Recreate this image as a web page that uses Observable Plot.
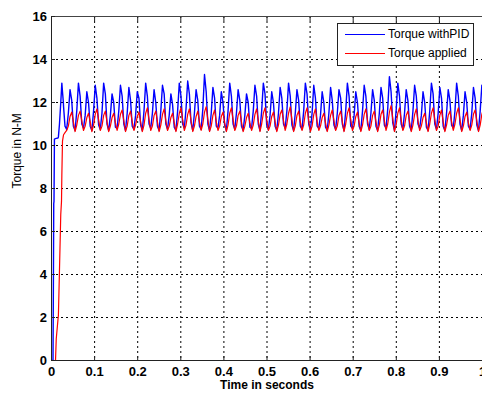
<!DOCTYPE html>
<html>
<head>
<meta charset="utf-8">
<script src="https://cdn.jsdelivr.net/npm/d3@7"></script>
<script src="https://cdn.jsdelivr.net/npm/@observablehq/plot@0.6"></script>
<style>
  html, body { margin: 0; padding: 0; background: #fff; }
  #wrap { position: relative; width: 482px; height: 394px; overflow: hidden; font-family: "Liberation Sans", Arial, sans-serif; }
  #legend { position: absolute; left: 337px; top: 23px; width: 135px; height: 41px; border: 1px solid #222; background: #fff; }
  .li { position: absolute; left: 0; height: 14px; font-size: 12px; line-height: 14px; color: #000; }
  .li span.sw { position: absolute; left: 7px; top: 7px; width: 40px; height: 0; border-top: 1px solid; }
  .li span.tx { position: absolute; left: 50px; top: 0; white-space: nowrap; }
</style>
</head>
<body>
<div id="wrap">
  <div id="chart"></div>
  <div id="legend">
    <div class="li" style="top:3px"><span class="sw" style="border-color:#0000ff"></span><span class="tx">Torque withPID</span></div>
    <div class="li" style="top:22px"><span class="sw" style="border-color:#ff0000"></span><span class="tx">Torque applied</span></div>
  </div>
</div>
<script>
// ---- tick labels ----
const xTicks = [0, 0.1, 0.2, 0.3, 0.4, 0.5, 0.6, 0.7, 0.8, 0.9, 1];
const yTicks = [0, 2, 4, 6, 8, 10, 12, 14, 16];
const seriesNames = ["Torque withPID", "Torque applied"];

// ---- start-up transient (explicit times) ----
const startTime  = [0, 0.0035, 0.0045, 0.0052, 0.0058, 0.0068, 0.0093, 0.011, 0.015, 0.016, 0.0185, 0.0215, 0.0232, 0.024, 0.0255, 0.0275, 0.028, 0.0313];
const startBlue  = [0, 0, 4.0, 7.3, 7.4, 10.3, 10.32, 10.33, 10.35, 10.4, 11.0, 12.0, 12.6, 12.9, 12.5, 12.0, 11.8, 10.9];
const startRed   = [0, 0, 0, 0, 0, 0, 0, 1.0, 1.9, 2.1, 4.2, 6.8, 7.4, 8.6, 10.2, 10.45, 10.5, 10.6];

// ---- steady-state samples, 0.0039 s apart from 0.0352 s ----
const steadyStart = 0.0352;
const steadyStep = 0.0039;
const steadyBlue = [
10.75,11.5,12.6,12.1,10.9,  10.7,11.6,12.9,12.3,11.0,  10.8,11.4,12.5,12.0,10.9,  10.7,11.6,12.8,12.2,10.95,
10.75,11.5,12.9,12.4,11.0,  10.7,11.4,12.4,12.0,10.85, 10.8,11.6,12.8,12.3,11.0,  10.7,11.5,12.7,12.1,10.9,
10.75,11.4,12.5,12.2,10.95, 10.7,11.6,12.9,12.3,11.0,  10.8,11.5,12.6,12.0,10.9,  10.7,11.6,12.8,12.4,11.0,
10.75,11.4,12.4,11.9,10.85, 10.7,11.6,12.9,12.3,11.0,  10.8,11.7,13.0,12.4,11.05, 10.7,11.5,12.6,12.1,10.9,
10.75,11.7,13.3,12.5,11.0,  10.7,11.5,12.7,12.2,10.9,  10.8,11.4,12.5,12.0,10.95, 10.7,11.6,12.9,12.3,11.0,
10.75,11.5,12.6,12.1,10.9,  10.7,11.4,12.4,12.0,10.85, 10.8,11.6,12.8,12.3,11.0,  10.7,11.6,12.9,12.4,10.95,
10.75,11.4,12.5,12.0,10.9,  10.7,11.5,12.7,12.2,11.0,  10.8,11.6,12.9,12.3,10.95, 10.7,11.5,12.6,12.1,10.9,
10.75,11.6,12.9,12.4,11.0,  10.7,11.5,12.8,12.2,10.9,  10.8,11.4,12.5,12.0,10.85, 10.7,11.5,12.7,12.1,10.95,
10.75,11.5,12.6,12.2,11.0,  10.7,11.6,12.9,12.3,10.9,  10.8,11.4,12.5,12.0,10.9,  10.7,11.6,12.8,12.3,11.0,
10.75,11.5,12.6,12.1,10.9,  10.7,11.5,12.7,12.2,10.95, 10.8,11.7,13.2,12.5,11.05, 10.7,11.6,12.9,12.3,11.0,
10.75,11.5,12.6,12.1,10.9,  10.7,11.6,12.8,12.3,11.0,  10.8,11.4,12.5,12.0,10.85, 10.7,11.6,12.9,12.4,11.0,
10.75,11.5,12.7,12.2,10.9,  10.7,11.5,12.6,12.1,10.95, 10.8,11.6,12.9,12.3,11.0,  10.7,11.4,12.5,12.0,10.9,
10.75,11.5,12.7,12.2,10.95, 10.7,11.6,12.8,12.3,11.0
];
const steadyRed = [
10.7,10.9,11.35,11.55,11.1,   10.65,10.95,11.4,11.6,11.15,  10.7,10.9,11.3,11.5,11.1,     10.65,10.95,11.45,11.7,11.2,
10.7,10.9,11.4,11.6,11.1,     10.65,10.9,11.3,11.5,11.05,   10.7,11.0,11.45,11.65,11.15,  10.65,10.9,11.4,11.6,11.1,
10.7,10.95,11.35,11.55,11.1,  10.65,10.95,11.5,11.75,11.2,  10.7,10.9,11.4,11.6,11.1,     10.65,10.95,11.45,11.7,11.15,
10.7,10.9,11.3,11.5,11.05,    10.65,11.0,11.5,11.75,11.2,   10.7,10.95,11.45,11.7,11.15,  10.65,10.9,11.35,11.6,11.1,
10.7,11.0,11.55,11.8,11.2,    10.65,10.9,11.4,11.65,11.1,   10.7,10.9,11.35,11.55,11.05,  10.65,10.95,11.5,11.75,11.2,
10.7,10.9,11.4,11.6,11.1,     10.65,10.9,11.3,11.5,11.05,   10.7,10.95,11.45,11.7,11.15,  10.65,11.0,11.5,11.75,11.2,
10.7,10.9,11.35,11.55,11.1,   10.65,10.95,11.45,11.65,11.15,10.7,11.0,11.5,11.8,11.2,     10.65,10.9,11.4,11.6,11.1,
10.7,10.95,11.5,11.75,11.15,  10.65,10.9,11.45,11.7,11.1,   10.7,10.9,11.3,11.5,11.05,    10.65,10.95,11.4,11.65,11.15,
10.7,10.9,11.4,11.6,11.1,     10.65,11.0,11.5,11.75,11.2,   10.7,10.9,11.35,11.55,11.05,  10.65,10.95,11.45,11.7,11.15,
10.7,10.9,11.4,11.6,11.1,     10.65,10.95,11.45,11.65,11.15,10.7,11.0,11.55,11.85,11.25,  10.65,10.95,11.5,11.75,11.2,
10.7,10.9,11.4,11.6,11.1,     10.65,10.95,11.45,11.7,11.15, 10.7,10.9,11.3,11.5,11.05,    10.65,11.0,11.5,11.75,11.2,
10.7,10.9,11.4,11.65,11.1,    10.65,10.95,11.4,11.6,11.1,   10.7,11.0,11.5,11.75,11.2,    10.65,10.9,11.35,11.55,11.05,
10.7,10.95,11.45,11.65,11.15, 10.65,10.95,11.45,11.7,11.15
];

// ---- build tables ----
function build(startVals, steadyVals) {
  const rows = startTime.map((t, i) => ({t, v: startVals[i]}));
  steadyVals.forEach((v, i) => rows.push({t: steadyStart + i * steadyStep, v}));
  return rows;
}
const blue = build(startBlue, steadyBlue);
const red = build(startRed, steadyRed);

const fmt = d => String(+d.toFixed(1));
const font = "'Liberation Sans', Arial, sans-serif";

const chart = Plot.plot({
  width: 482,
  height: 394,
  marginLeft: 51,
  marginRight: 0,
  marginTop: 16,
  marginBottom: 34,
  style: {fontFamily: font, background: "#fff", overflow: "visible"},
  x: {domain: [0, 1]},
  y: {domain: [0, 16]},
  marks: [
    Plot.gridX(xTicks.slice(1, -1), {stroke: "#000", strokeOpacity: 1, strokeDasharray: "2,3"}),
    Plot.gridY(yTicks.slice(1, -1), {stroke: "#000", strokeOpacity: 1, strokeDasharray: "2,3"}),
    Plot.line(blue, {x: "t", y: "v", stroke: "#0000ff", strokeWidth: 1.4, clip: true}),
    Plot.line(red, {x: "t", y: "v", stroke: "#ff0000", strokeWidth: 1.2, clip: true}),
    Plot.ruleY([16], {stroke: "#444"}),
    Plot.ruleY([0], {stroke: "#222"}),
    Plot.ruleX([0], {stroke: "#222"}),
    Plot.axisX({ticks: xTicks, anchor: "bottom", tickSize: -4, tickPadding: 10, tickFormat: fmt,
      fontWeight: "bold", fontSize: 13, label: null, stroke: "#222"}),
    Plot.axisX({ticks: xTicks, anchor: "top", tickSize: -4, tickFormat: () => "", label: null, stroke: "#222"}),
    Plot.axisY({ticks: yTicks, anchor: "left", tickSize: -4, tickPadding: 8.5, fontWeight: "bold",
      fontSize: 13, label: null, stroke: "#222"}),
    Plot.text(["Time in seconds"], {text: d => d, frameAnchor: "bottom", dy: 28, fontWeight: "bold",
      fontSize: 12, fill: "#000"}),
    Plot.text(["Torque in N-M"], {text: d => d, frameAnchor: "left", dx: -34, rotate: -90,
      fontSize: 12, fill: "#000"})
  ]
});
document.getElementById("chart").appendChild(chart);
</script>
</body>
</html>
